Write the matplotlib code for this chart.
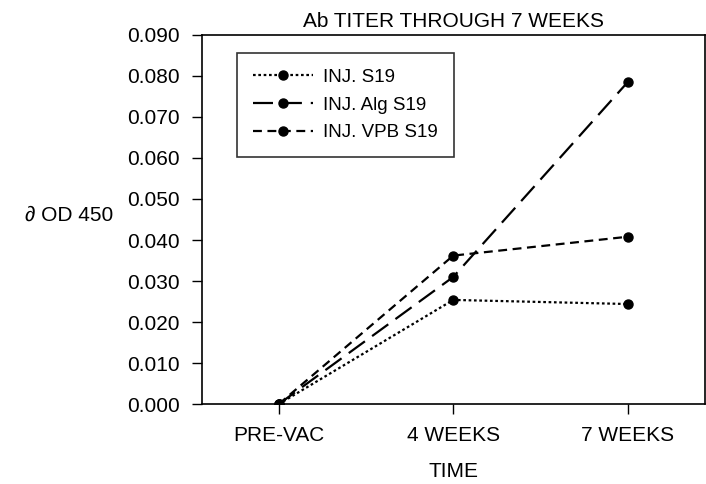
import matplotlib
matplotlib.use('Agg')
import matplotlib.pyplot as plt

plt.rcParams['font.family'] = ['Liberation Sans', 'DejaVu Sans']

times = ['PRE-VAC', '4 WEEKS', '7 WEEKS']
inj_s19 = [0.000, 0.0254, 0.0244]
inj_alg = [0.000, 0.0310, 0.0785]
inj_vpb = [0.000, 0.0362, 0.0408]

fig = plt.figure(figsize=(7.06, 4.84), dpi=100)
ax = fig.add_axes([0.286, 0.165, 0.712, 0.763])

x = range(len(times))
ax.plot(x, inj_s19, linestyle=(0, (1.2, 1.2)), color='black', lw=1.6,
        marker='o', ms=6.5, label='INJ. S19')
ax.plot(x, inj_alg, linestyle=(0, (9, 4)), color='black', lw=1.6,
        marker='o', ms=6.5, label='INJ. Alg S19')
ax.plot(x, inj_vpb, linestyle=(0, (4, 2.5)), color='black', lw=1.6,
        marker='o', ms=6.5, label='INJ. VPB S19')

ax.set_xlim(-0.44, 2.44)
ax.set_ylim(0, 0.09)
ax.set_xticks(list(x))
ax.set_xticklabels(times, fontsize=15)
ax.set_yticks([i * 0.01 for i in range(10)])
ax.set_yticklabels(['%.3f' % (i * 0.01) for i in range(10)], fontsize=15)
ax.tick_params(direction='out', length=7, width=1, pad=9)
ax.set_xlabel('TIME', fontsize=15, labelpad=12)
ax.set_title('Ab TITER THROUGH 7 WEEKS', fontsize=15, pad=6)
fig.text(0.035, 0.555, '∂ OD 450', fontsize=15, va='center', ha='left')

leg = ax.legend(loc='upper left', bbox_to_anchor=(0.069, 0.951),
                borderaxespad=0, fontsize=13.5,
                frameon=True, fancybox=False, edgecolor='black',
                handlelength=3.2, handletextpad=0.55, borderpad=0.85,
                labelspacing=0.56)
leg.get_frame().set_linewidth(1.2)

for s in ax.spines.values():
    s.set_linewidth(1.2)

fig.savefig('out.png', dpi=100)
